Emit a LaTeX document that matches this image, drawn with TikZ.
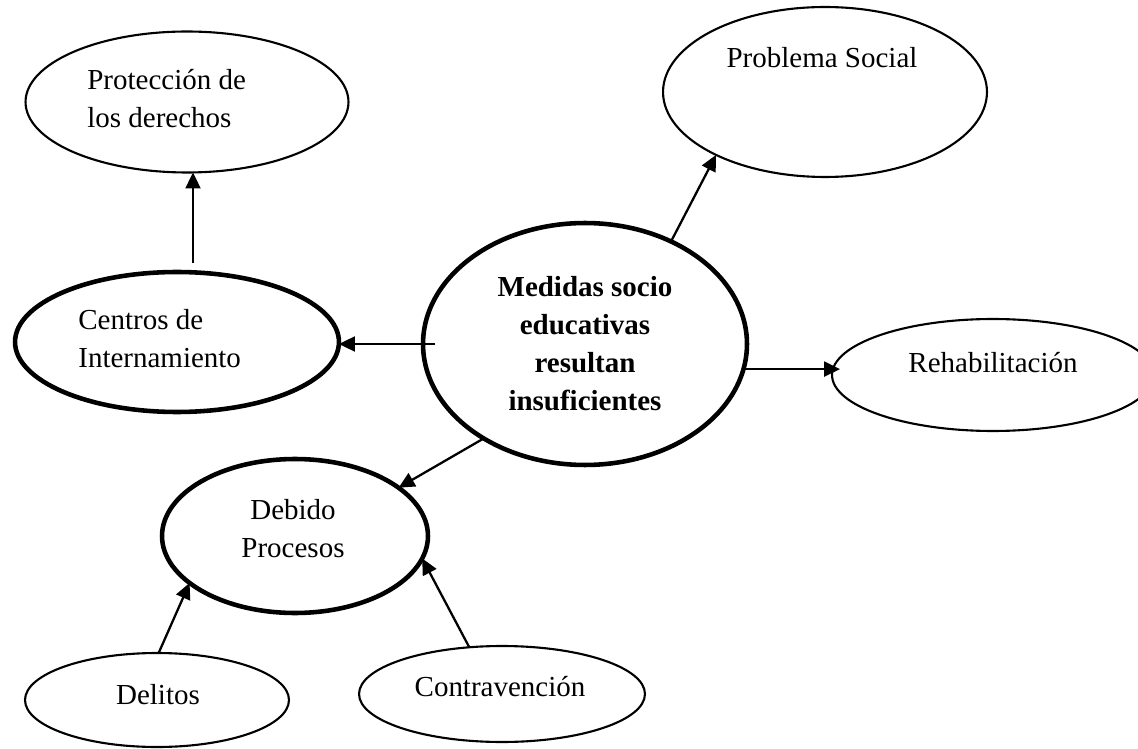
\documentclass[tikz,border=0pt]{standalone}
\usepackage{fontspec}
\setmainfont{Liberation Serif}
\usepackage{tikz}
\usetikzlibrary{shapes.geometric, arrows.meta}
\tikzset{
    bubble/.style={ellipse, draw, line width=1.2pt, inner sep=0pt, outer sep=0pt},
    boldbubble/.style={bubble, line width=2.6pt},
    txt/.style={inner sep=0pt, font=\fontsize{16.5}{21.6}\selectfont},
    link/.style={line width=1.3pt, -{Triangle[length=0.32cm, width=0.3cm]}}
}

\begin{document}
\begin{tikzpicture}[x=0.02cm, y=-0.02cm]
\useasboundingbox (0,0) rectangle (1138,749);
% ovals
\node[bubble, minimum width=6.46cm, minimum height=2.82cm] (prot) at (187,102) {};
\node[bubble, minimum width=6.48cm, minimum height=3.4cm] (prob) at (825,92) {};
\node[boldbubble, minimum width=6.48cm, minimum height=2.8cm] (cent) at (177,342) {};
\node[boldbubble, minimum width=6.48cm, minimum height=4.84cm] (med) at (585,344) {};
\node[bubble, minimum width=6.44cm, minimum height=2.24cm] (reh) at (993,375) {};
\node[boldbubble, minimum width=5.32cm, minimum height=3.08cm] (deb) at (295,536) {};
\node[bubble, minimum width=5.28cm, minimum height=1.88cm] (del) at (157,700) {};
\node[bubble, minimum width=5.72cm, minimum height=1.92cm] (con) at (502,694) {};
% texts
\node[txt, anchor=west, align=left] at (87,99) {Protección de\\los derechos};
\node[txt] at (822,58) {Problema Social};
\node[txt, anchor=west, align=left] at (78,339) {Centros de\\Internamiento};
\node[txt, align=center, font=\fontsize{16.5}{21.6}\selectfont\bfseries] at (585,344) {Medidas socio\\educativas\\resultan\\insuficientes};
\node[txt] at (993,363) {Rehabilitación};
\node[txt, align=center] at (293,529) {Debido\\Procesos};
\node[txt] at (158,695) {Delitos};
\node[txt] at (500,687) {Contravención};
% arrows
\draw[link] ([shift={(16,-9)}]cent.north) -- ([shift={(6,0)}]prot.south);
\draw[link] (med.50) -- (prob.210);
\draw[link] ([shift={(12,0)}]med.west) -- (cent.east |- med.west);
\draw[link, shorten >=-0.16cm] (med.351.5) -- (reh.west |- med.351.5);
\draw[link] (med.223) -- (deb.25);
\draw[link] (del.88) -- (deb.204);
\draw[link] (con.125) -- (deb.350);
\end{tikzpicture}
\end{document}
